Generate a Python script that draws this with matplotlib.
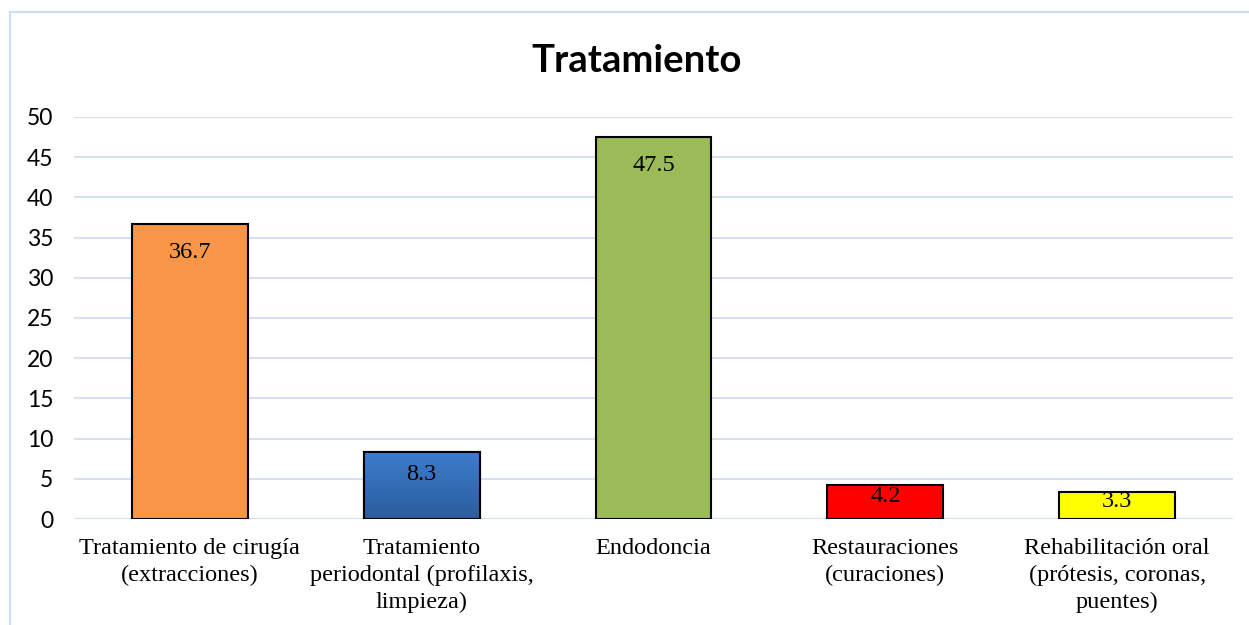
import matplotlib
matplotlib.use('Agg')
import matplotlib.pyplot as plt
from matplotlib.patches import Rectangle
import numpy as np

# --- Data ---
categories = [
    'Tratamiento de cirugía\n(extracciones)',
    'Tratamiento\nperiodontal (profilaxis,\nlimpieza)',
    'Endodoncia',
    'Restauraciones\n(curaciones)',
    'Rehabilitación oral\n(prótesis, coronas,\npuentes)',
]
values = [36.7, 8.3, 47.5, 4.2, 3.3]
colors = ['#F79646', '#3A78C6', '#9BBB59', '#FF0000', '#FFFF00']
title = 'Tratamiento'

GRID = '#D5E0F2'

fig = plt.figure(figsize=(12.49, 6.25), dpi=100)
fig.patch.set_facecolor('white')

# chart frame (only left/top visible in the crop)
fig.patches.append(Rectangle((10 / 1249, -0.1), 1.2, 1 - 12 / 625 + 0.1,
                             transform=fig.transFigure, fill=False,
                             edgecolor='#CFDDF0', linewidth=1.5))

ax = fig.add_axes([74 / 1249, 1 - 519 / 625, (1233 - 74) / 1249, (519 - 117) / 625])
x = np.arange(len(values))
bars = ax.bar(x, values, width=0.5, color=colors, edgecolor='black',
              linewidth=1.5, zorder=3)

# gradient on the blue bar
b = bars[1]
grad = np.linspace(0, 1, 256).reshape(-1, 1)
cmap = matplotlib.colors.LinearSegmentedColormap.from_list('g', ['#2C5D9D', '#3D7DCD'])
im = ax.imshow(grad, cmap=cmap, origin='lower', aspect='auto', zorder=3.5,
               extent=[b.get_x(), b.get_x() + b.get_width(), 0, b.get_height()])
im.set_clip_path(b)
ax.bar(x[1], values[1], width=0.5, fill=False, edgecolor='black', linewidth=1.5, zorder=4)

for xi, v in zip(x, values):
    ax.text(xi, max(v - 3.5, v * 0.66), f'{v}', ha='center', va='center',
            fontsize=17.5, family='Liberation Serif', color='black', zorder=5)

ax.set_xlim(-0.5, len(values) - 0.5)
ax.set_ylim(0, 50)
ax.set_yticks(range(0, 51, 5))
ax.set_xticks(x)
ax.set_xticklabels(categories, fontsize=17.5, family='Liberation Serif', linespacing=1.35)
for lbl in ax.get_yticklabels():
    lbl.set_family('Lato')
    lbl.set_fontsize(16.5)
ax.tick_params(axis='both', length=0)
ax.tick_params(axis='y', pad=15)
ax.tick_params(axis='x', pad=14)
ax.grid(axis='y', color=GRID, linewidth=1.5, zorder=0)
for s in ax.spines.values():
    s.set_visible(False)
ax.axhline(0, color=GRID, linewidth=1.5, zorder=1)

fig.text(637 / 1249, 1 - 61 / 625, title, ha='center', va='center',
         fontsize=27.5, fontweight='bold', family='Lato')

fig.savefig('out.png', dpi=100, facecolor='white')
